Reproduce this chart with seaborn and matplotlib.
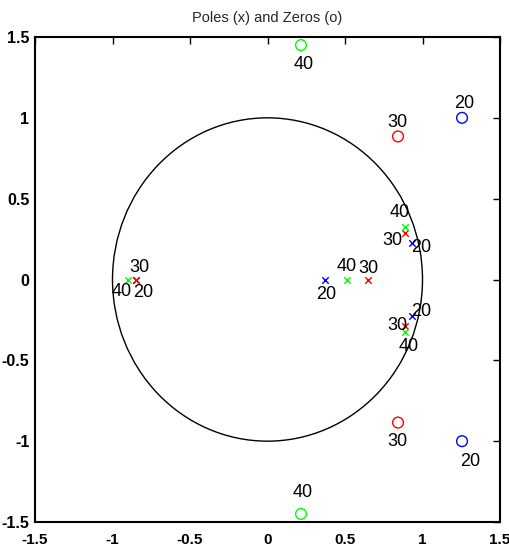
import numpy as np
import pandas as pd
import matplotlib
matplotlib.use("Agg")
import matplotlib.pyplot as plt
from matplotlib.patches import Circle
import seaborn as sns

# ---- data ----
orders = ["20", "30", "40"]
poles_20_re = [0.37, 0.93, 0.93, -0.85]
poles_20_im = [0.0, 0.226, -0.226, 0.0]
poles_30_re = [0.648, 0.889, 0.889, -0.848]
poles_30_im = [0.0, 0.288, -0.288, 0.0]
poles_40_re = [0.515, 0.889, 0.889, -0.902]
poles_40_im = [0.0, 0.325, -0.325, 0.0]
zeros_20_re = [1.255, 1.255]
zeros_20_im = [1.0, -1.0]
zeros_30_re = [0.842, 0.842]
zeros_30_im = [0.885, -0.885]
zeros_40_re = [0.216, 0.216]
zeros_40_im = [1.45, -1.45]
ticks = [-1.5, -1, -0.5, 0, 0.5, 1, 1.5]
tick_labels = ["-1.5", "-1", "-0.5", "0", "0.5", "1", "1.5"]

# label offsets (pixels, x right / y down) for each point, same order as data
pole_offsets = {
    "20": [(1, 15), (10, 5), (10, -5), (7, 13)],
    "30": [(0, -11), (-13, 8), (-8, -1), (3, -12)],
    "40": [(-1, -13), (-6, -14), (3, 14), (-6, 12)],
}
zero_offsets = {
    "20": [(2, -14), (8, 20)],
    "30": [(-1, -14), (-1, 19)],
    "40": [(3, 19.5), (2, -21)],
}
colors = {"20": "#0000ff", "30": "#ff0000", "40": "#00ff00"}

poles = {"20": (poles_20_re, poles_20_im), "30": (poles_30_re, poles_30_im),
         "40": (poles_40_re, poles_40_im)}
zeros = {"20": (zeros_20_re, zeros_20_im), "30": (zeros_30_re, zeros_30_im),
         "40": (zeros_40_re, zeros_40_im)}

rows = []
for o in orders:
    for r, i in zip(*poles[o]):
        rows.append({"re": r, "im": i, "order": o, "kind": "pole"})
    for r, i in zip(*zeros[o]):
        rows.append({"re": r, "im": i, "order": o, "kind": "zero"})
df = pd.DataFrame(rows)

sns.set_style("white")
narrow = ["Liberation Sans Narrow", "Liberation Sans", "DejaVu Sans"]
plt.rcParams["font.family"] = narrow

fig = plt.figure(figsize=(5.10, 5.51), dpi=100)
ax = fig.add_axes([35 / 510, 29 / 551, 465 / 510, 485 / 551])

ax.add_patch(Circle((0, 0), 1.0, fill=False, edgecolor="black", lw=1.0))

for o in orders:
    d = df[(df.order == o) & (df.kind == "pole")]
    sns.scatterplot(data=d, x="re", y="im", marker="x", color=colors[o],
                    s=22, linewidth=1.0, ax=ax, legend=False, zorder=3)
for o in orders:
    d = df[(df.order == o) & (df.kind == "zero")]
    sns.scatterplot(data=d, x="re", y="im", marker="o", facecolor="none",
                    edgecolor=colors[o], s=60, linewidth=1.0, ax=ax,
                    legend=False, zorder=3)

px2pt = 0.72
for o in orders:
    for (r, i), (dx, dy) in zip(zip(*poles[o]), pole_offsets[o]):
        ax.annotate(o, (r, i), xytext=(dx * px2pt, -dy * px2pt),
                    textcoords="offset points", ha="center", va="center",
                    fontsize=13, color="black")
    for (r, i), (dx, dy) in zip(zip(*zeros[o]), zero_offsets[o]):
        ax.annotate(o, (r, i), xytext=(dx * px2pt, -dy * px2pt),
                    textcoords="offset points", ha="center", va="center",
                    fontsize=13, color="black")

ax.set_xlim(-1.5, 1.5)
ax.set_ylim(-1.5, 1.5)
ax.set_xticks(ticks)
ax.set_yticks(ticks)
ax.set_xticklabels(tick_labels, fontsize=11, fontweight="bold")
ax.set_yticklabels(tick_labels, fontsize=11.5, fontweight="bold")
ax.tick_params(direction="in", length=5, width=1, top=True, right=True,
               colors="black")
ax.tick_params(axis="x", pad=8)
ax.tick_params(axis="y", pad=4)
ax.set_xlabel("")
ax.set_ylabel("")
for sp in ax.spines.values():
    sp.set_visible(True)
    sp.set_color("black")
    sp.set_linewidth(1.5)
ax.set_title("Poles (x) and Zeros (o)", fontsize=10.5, pad=11)

fig.savefig("out.png", dpi=100, facecolor="white")
